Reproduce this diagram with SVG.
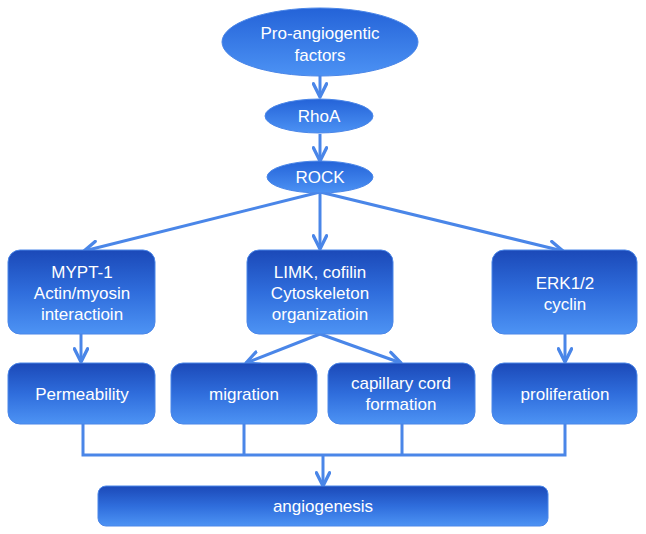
<svg xmlns="http://www.w3.org/2000/svg" width="646" height="534" viewBox="0 0 646 534">
<style>
.n{stroke:#4a86e8;stroke-width:1}
.t{font-family:"Liberation Sans","Open Sans",Arial,sans-serif;font-size:17px;fill:#ffffff;text-anchor:middle}
.c{fill:none;stroke:#4a86e8;stroke-width:3}
</style>
<defs>
<linearGradient id="gb" x1="0" y1="0" x2="0" y2="1">
<stop offset="0" stop-color="#1b49b8"/>
<stop offset="0.5" stop-color="#2f6ddc"/>
<stop offset="1" stop-color="#4d93f4"/>
</linearGradient>
<linearGradient id="ge" x1="0" y1="0" x2="0" y2="1">
<stop offset="0" stop-color="#2463d8"/>
<stop offset="1" stop-color="#4c92f4"/>
</linearGradient>
<marker id="ah" viewBox="0 0 10 10" refX="9" refY="5" markerWidth="5.5" markerHeight="5.5" orient="auto" markerUnits="strokeWidth">
<path d="M1,1 L9,5 L1,9" fill="none" stroke="#4a86e8" stroke-width="2" stroke-linecap="round" stroke-linejoin="round"/>
</marker>
</defs>
<rect width="646" height="534" fill="#ffffff"/>
<g id="connectors">
<path class="c" d="M320,76 V97" marker-end="url(#ah)"/>
<path class="c" d="M320,134 V161" marker-end="url(#ah)"/>
<path class="c" d="M320,192 L84,251" marker-end="url(#ah)"/>
<path class="c" d="M320,192 V249" marker-end="url(#ah)"/>
<path class="c" d="M320,192 L563,251" marker-end="url(#ah)"/>
<path class="c" d="M81,334 V362" marker-end="url(#ah)"/>
<path class="c" d="M565,334 V362" marker-end="url(#ah)"/>
<path class="c" d="M320,334 L246,363" marker-end="url(#ah)"/>
<path class="c" d="M320,334 L401,363" marker-end="url(#ah)"/>
<path class="c" d="M83,424 V455 H565 V424 M244,424 V455 M402,424 V455"/>
<path class="c" d="M323,455 V486" marker-end="url(#ah)"/>
</g>
<g id="pro-angiogentic">
<ellipse class="n" cx="320" cy="42" rx="98" ry="34" fill="url(#ge)"/>
<text class="t" x="320" y="39">Pro-angiogentic</text>
<text class="t" x="320" y="61">factors</text>
</g>
<g id="rhoa">
<ellipse class="n" cx="319" cy="116" rx="54" ry="17" fill="url(#ge)"/>
<text class="t" x="319" y="122">RhoA</text>
</g>
<g id="rock">
<ellipse class="n" cx="320" cy="177" rx="53" ry="16" fill="url(#ge)"/>
<text class="t" x="320" y="183">ROCK</text>
</g>
<g id="mypt">
<rect class="n" x="8" y="250" width="147" height="84" rx="12" fill="url(#gb)"/>
<text class="t" x="82" y="278">MYPT-1</text>
<text class="t" x="82" y="299">Actin/myosin</text>
<text class="t" x="82" y="320">interactioin</text>
</g>
<g id="limk">
<rect class="n" x="247" y="250" width="146" height="84" rx="12" fill="url(#gb)"/>
<text class="t" x="320" y="278">LIMK, cofilin</text>
<text class="t" x="320" y="299">Cytoskeleton</text>
<text class="t" x="320" y="320">organizatioin</text>
</g>
<g id="erk">
<rect class="n" x="492" y="250" width="145" height="84" rx="12" fill="url(#gb)"/>
<text class="t" x="565" y="289">ERK1/2</text>
<text class="t" x="565" y="310">cyclin</text>
</g>
<g id="permeability">
<rect class="n" x="8" y="363" width="147" height="61" rx="12" fill="url(#gb)"/>
<text class="t" x="82" y="400">Permeability</text>
</g>
<g id="migration">
<rect class="n" x="171" y="363" width="146" height="61" rx="12" fill="url(#gb)"/>
<text class="t" x="244" y="400">migration</text>
</g>
<g id="capillary">
<rect class="n" x="328" y="363" width="147" height="61" rx="12" fill="url(#gb)"/>
<text class="t" x="401" y="389">capillary cord</text>
<text class="t" x="401" y="410">formation</text>
</g>
<g id="proliferation">
<rect class="n" x="492" y="363" width="145" height="61" rx="12" fill="url(#gb)"/>
<text class="t" x="565" y="400">proliferation</text>
</g>
<g id="angiogenesis">
<rect class="n" x="98" y="486" width="450" height="40" rx="8" fill="url(#gb)"/>
<text class="t" x="323" y="512">angiogenesis</text>
</g>
</svg>
